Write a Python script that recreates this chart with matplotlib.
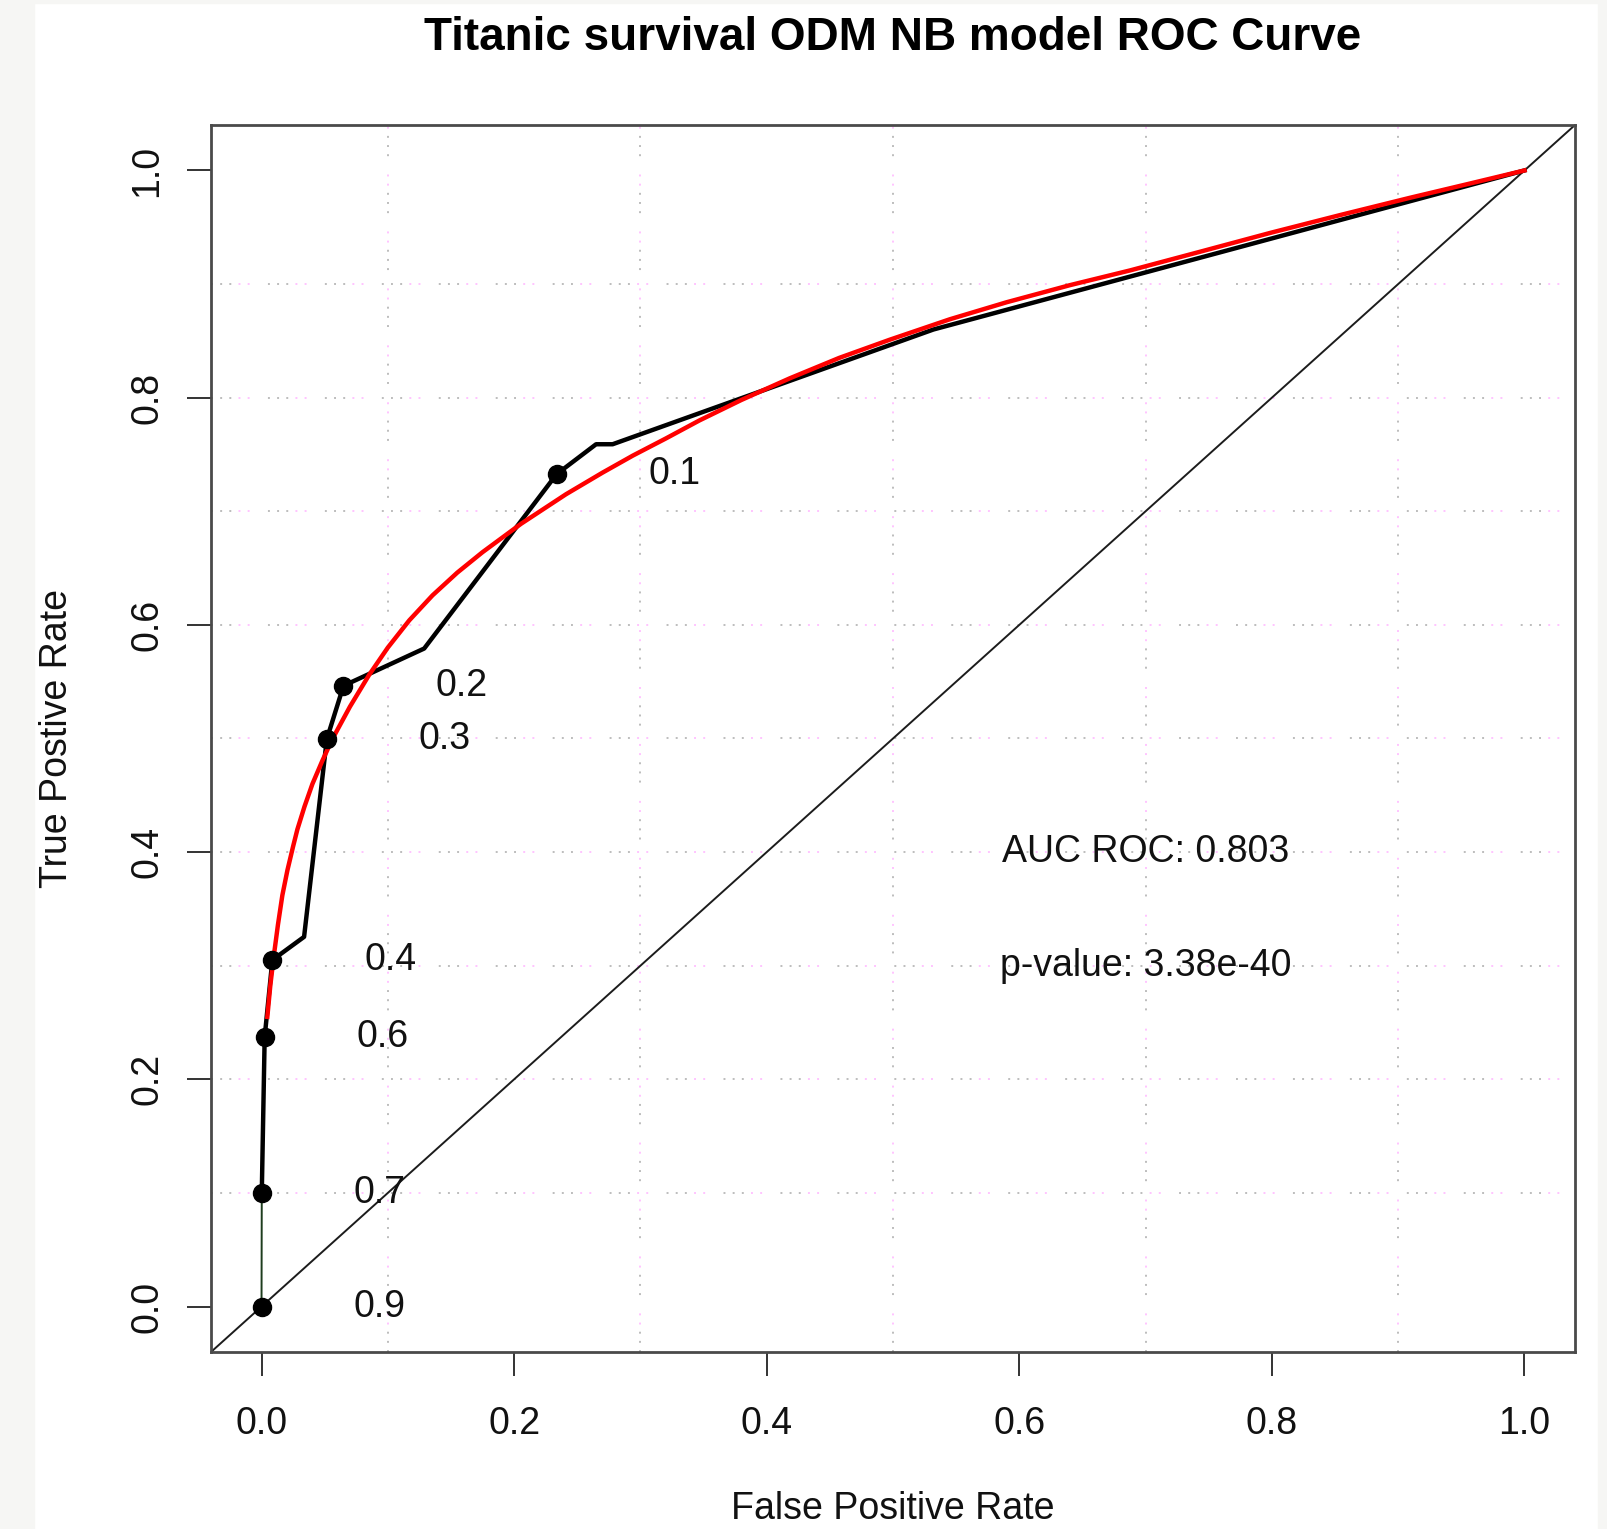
import matplotlib
matplotlib.use('Agg')
import matplotlib.pyplot as plt
from matplotlib.patches import Rectangle

plt.rcParams['font.family'] = ['Liberation Sans', 'DejaVu Sans']
plt.rcParams['lines.scale_dashes'] = False

fpr = [0, 0.0002, 0.0025, 0.0086, 0.0337, 0.0517, 0.0649, 0.1288, 0.2337, 0.2649, 0.278, 0.532, 1.0]
tpr = [0, 0.0996, 0.2374, 0.305, 0.3254, 0.4994, 0.5464, 0.5792, 0.7327, 0.759, 0.759, 0.860, 1.0]

# cutoff points and their labels
cut_fpr = [0, 0.0002, 0.0025, 0.0086, 0.0517, 0.0649, 0.2337]
cut_tpr = [0, 0.0996, 0.2374, 0.305, 0.4994, 0.5464, 0.7327]
cut_labels = ['0.9', '0.7', '0.6', '0.4', '0.3', '0.2', '0.1']

# smoothed ROC (red)
fit_fpr = [0.0046, 0.0070, 0.0099, 0.013, 0.0165, 0.0205, 0.025, 0.0284, 0.034, 0.0403,
           0.048, 0.0561, 0.070, 0.0852, 0.100, 0.117, 0.1354, 0.155, 0.175, 0.2055,
           0.2411, 0.270, 0.294, 0.320, 0.3468, 0.38, 0.4182, 0.4574, 0.4974, 0.545,
           0.59, 0.64, 0.6877, 0.745, 0.7986, 0.855, 0.9096, 0.955, 1.0]
fit_tpr = [0.255, 0.283, 0.310, 0.336, 0.362, 0.384, 0.405, 0.420, 0.440, 0.460,
           0.480, 0.4995, 0.528, 0.556, 0.580, 0.604, 0.626, 0.646, 0.664, 0.689,
           0.715, 0.734, 0.749, 0.764, 0.780, 0.798, 0.817, 0.835, 0.851, 0.869,
           0.884, 0.899, 0.912, 0.929, 0.945, 0.961, 0.976, 0.988, 1.0]

auc_text = 'AUC ROC: 0.803'
p_text = 'p-value: 3.38e-40'

ticks = [0.0, 0.2, 0.4, 0.6, 0.8, 1.0]
vgrid = [0.1, 0.3, 0.5, 0.7, 0.9]
hgrid = [0.1, 0.2, 0.3, 0.4, 0.5, 0.6, 0.7, 0.8, 0.9]

W, H = 1608, 1529
fig = plt.figure(figsize=(W / 100, H / 100), dpi=100, facecolor='white')

# light grey border strips of the screenshot
bg = '#f6f6f4'
fig.patches.append(Rectangle((0, 0), 34 / W, 1, transform=fig.transFigure, color=bg, zorder=0))
fig.patches.append(Rectangle((0, 1 - 3 / H), 1, 3 / H, transform=fig.transFigure, color=bg, zorder=0))
fig.patches.append(Rectangle((1598 / W, 0), 10 / W, 1, transform=fig.transFigure, color=bg, zorder=0))

ax = fig.add_axes([211 / W, 1 - 1352 / H, (1575 - 211) / W, (1352 - 125) / H])
ax.set_xlim(-0.04, 1.04)
ax.set_ylim(-0.04, 1.04)

# dotted grid: grey dot groups with pink dots between
gray_ls = (0, (1.4, 5.2, 1.4, 5.2, 1.4, 26.4))
pink_ls = (21.2, (1.4, 5.2, 1.4, 33.0))
for v in vgrid:
    ax.axvline(v, color='#bdbdbd', lw=1.4, ls=gray_ls, zorder=1)
    ax.axvline(v, color='#ffc4ff', lw=1.4, ls=pink_ls, zorder=1)
for h in hgrid:
    ax.axhline(h, color='#bdbdbd', lw=1.4, ls=gray_ls, zorder=1)
    ax.axhline(h, color='#ffc4ff', lw=1.4, ls=pink_ls, zorder=1)

ax.axline((0, 0), (1, 1), color='#1c1c1c', lw=1.4, zorder=2)

ax.plot(fpr[:2], tpr[:2], color='#1e3d1e', lw=1.4, zorder=3)
ax.plot(fpr[1:], tpr[1:], color='black', lw=3.2, zorder=3, solid_joinstyle='round')
ax.plot(fit_fpr, fit_tpr, color='red', lw=3.2, zorder=4, solid_joinstyle='round')
ax.plot(cut_fpr, cut_tpr, 'o', color='black', ms=13, zorder=5)

for x, y, s in zip(cut_fpr, cut_tpr, cut_labels):
    ax.annotate(s, (x, y), xytext=(85, 0), textcoords='offset points',
                ha='center', va='center', fontsize=27, color='#111111')

ax.text(0.7, 0.4, auc_text, ha='center', va='center', fontsize=27, color='#111111')
ax.text(0.7, 0.3, p_text, ha='center', va='center', fontsize=27, color='#111111')

for sp in ax.spines.values():
    sp.set_color('#4a4a4a')
    sp.set_linewidth(2.0)

ax.set_xticks(ticks)
ax.set_xticklabels(['%.1f' % t for t in ticks])
ax.set_yticks(ticks)
ax.set_yticklabels(['%.1f' % t for t in ticks], rotation=90, va='center')
ax.tick_params(axis='both', direction='out', length=17, width=1.4, color='#333333',
               labelsize=27, labelcolor='#111111')
ax.tick_params(axis='x', pad=22)
ax.tick_params(axis='y', pad=16)

fig.text(893 / W, 1 - 50 / H, 'Titanic survival ODM NB model ROC Curve',
         ha='center', va='baseline', fontsize=33, fontweight='bold')
fig.text(893 / W, 1 - 1519 / H, 'False Positive Rate',
         ha='center', va='baseline', fontsize=27, color='#111111')
fig.text(66.7 / W, 1 - 738 / H, 'True Postive Rate', rotation=90, rotation_mode='anchor',
         ha='center', va='baseline', fontsize=27, color='#111111')

fig.savefig('out.png', dpi=100, facecolor=fig.get_facecolor())
